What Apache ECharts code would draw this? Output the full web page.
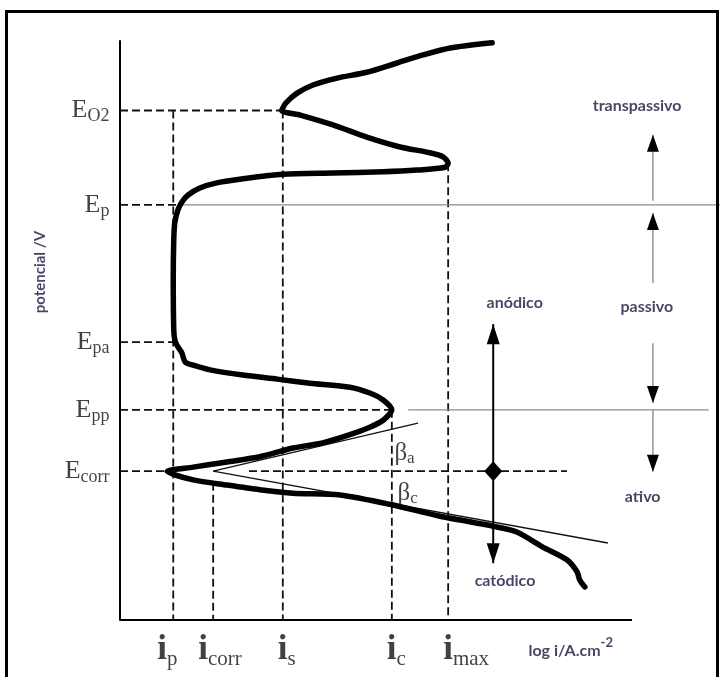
<!DOCTYPE html>
<html>
<head>
<meta charset="utf-8">
<script src="https://cdn.jsdelivr.net/npm/echarts@6/dist/echarts.min.js"></script>
<style>
  html, body { margin: 0; padding: 0; background: #fff; }
  #chart { width: 723px; height: 677px; }
</style>
</head>
<body>
<div id="chart"></div>
<script>
// Characteristic potentials (E axis, arbitrary units) and their subscripts
const potentialNames = ['O2', 'p', 'pa', 'pp', 'corr'];
const potentialValues = [8.80, 7.17, 4.80, 3.63, 2.57];

// Characteristic currents (log i axis, arbitrary units) and their subscripts
const currentNames = ['p', 'corr', 's', 'c', 'max'];
const currentValues = [1.04, 1.82, 3.18, 5.31, 6.41];

// Length of the drawn log i axis
const logIAxisEnd = 10;

// Polarization curve, traced from the transpassive end down to the cathodic branch
const curveLogI = [
  7.27, 6.45, 5.92, 5.41, 4.82, 4.24, 3.77, 3.46, 3.24, 3.16,
  3.52, 4.16, 4.82, 5.47, 6.05, 6.31, 6.41, 6.35, 5.80, 5.14,
  4.16, 3.18, 2.83, 2.48, 1.89, 1.56, 1.33, 1.21, 1.13, 1.07,
  1.05, 1.04, 1.05, 1.07, 1.11, 1.21, 1.27, 1.43, 1.76, 2.40,
  3.07, 3.71, 4.49, 4.88, 5.14, 5.31, 5.14, 4.88, 4.49, 3.96,
  3.38, 2.73, 2.09, 1.43, 0.92, 1.43, 2.09, 2.73, 3.38, 4.30,
  5.31, 6.21, 7.29, 7.75, 8.26, 8.73, 8.93, 8.98, 9.08
];
const curveE = [
  9.97, 9.88, 9.76, 9.62, 9.46, 9.36, 9.24, 9.10, 8.93, 8.80,
  8.72, 8.55, 8.34, 8.17, 8.07, 8.00, 7.89, 7.82, 7.77, 7.74,
  7.72, 7.70, 7.67, 7.63, 7.55, 7.46, 7.34, 7.22, 7.08, 6.86,
  6.56, 5.87, 5.01, 4.84, 4.75, 4.61, 4.46, 4.40, 4.32, 4.23,
  4.16, 4.09, 4.02, 3.92, 3.80, 3.63, 3.45, 3.33, 3.20, 3.06,
  2.97, 2.82, 2.73, 2.64, 2.57, 2.42, 2.33, 2.25, 2.19, 2.16,
  1.99, 1.80, 1.62, 1.52, 1.26, 1.04, 0.83, 0.69, 0.57
];

// Tafel extrapolations meeting at (i_corr, E_corr)
const tafelAnodicLogI = [1.82, 5.82];
const tafelAnodicE = [2.57, 3.40];
const tafelCathodicLogI = [1.82, 9.53];
const tafelCathodicE = [2.57, 1.33];

// Dashed guides: horizontal ones end at these log i, vertical ones start at these E
const hGuideEnd = [3.18, 1.17, 1.04, 5.31, 0.92];
const vGuideStart = [8.80, 2.37, 8.80, 3.63, 7.89];
const corrGuideExtra = [2.52, 8.73];

// Thin boundary lines at E_p and E_pp
const boundaryE = [7.17, 3.63];
const boundaryFrom = [1.17, 5.63];
const boundaryTo = [11.72, 11.50];

// Region arrows on the right (log i position, start E, tip E)
const regionArrowLogI = 10.41;
const regionArrowFrom = [7.24, 5.82, 4.78, 3.63];
const regionArrowTo = [8.38, 7.03, 3.75, 2.56];

// Anodic / cathodic arrow through E_corr
const branchArrowLogI = 7.29;
const branchArrowTips = [5.11, 0.98];

// ---------------------------------------------------------------------------
const SERIF = 'Liberation Serif';
const SANS = 'Lato';
const NAVY = '#15173c';
const INK = '#111';

const zip = (xs, ys) => xs.map((x, i) => [x, ys[i]]);

function lineSeries(data, lineStyle, z) {
  return {
    type: 'line', data, symbol: 'none', clip: false, silent: true,
    animation: false, lineStyle, z: z || 2
  };
}

const dashStyle = { color: INK, width: 1.8, type: [8, 4] };
const grayStyle = { color: '#8c8c8c', width: 1.2 };

const series = [];

// the log i axis line (stops short of the right-hand annotations)
series.push(lineSeries([[0, 0], [logIAxisEnd, 0]], { color: '#000', width: 2 }, 3));

// horizontal dashed guides from the E axis
potentialValues.forEach((e, i) => {
  series.push(lineSeries([[0, e], [hGuideEnd[i], e]], dashStyle));
});
series.push(lineSeries([[corrGuideExtra[0], potentialValues[4]], [corrGuideExtra[1], potentialValues[4]]], dashStyle));

// vertical dashed guides down to the log i axis
currentValues.forEach((c, i) => {
  series.push(lineSeries([[c, vGuideStart[i]], [c, 0]], dashStyle));
});

// thin gray boundary lines
boundaryE.forEach((e, i) => {
  series.push(lineSeries([[boundaryFrom[i], e], [boundaryTo[i], e]], grayStyle));
});

// Tafel lines
series.push(lineSeries(zip(tafelAnodicLogI, tafelAnodicE), { color: INK, width: 1.3 }, 4));
series.push(lineSeries(zip(tafelCathodicLogI, tafelCathodicE), { color: INK, width: 1.3 }, 4));

// main polarization curve
series.push({
  type: 'line', data: zip(curveLogI, curveE), symbol: 'none', smooth: 0.25,
  clip: false, silent: true, animation: false, z: 5,
  lineStyle: { color: '#000', width: 5.5, cap: 'round', join: 'round' }
});

// arrows: a line with a filled triangle head at the tip
function arrow(x, from, to, style, head) {
  const up = to > from;
  return {
    type: 'line', clip: false, silent: true, animation: false, z: 6,
    showSymbol: true, symbol: 'none', lineStyle: style,
    data: [
      [x, from],
      {
        value: [x, to], symbol: 'triangle', symbolSize: head,
        symbolRotate: up ? 0 : 180,
        symbolOffset: [0, up ? head[1] / 2 : -head[1] / 2],
        itemStyle: { color: '#000', opacity: 1 }
      }
    ]
  };
}
regionArrowFrom.forEach((f, i) => {
  series.push(arrow(regionArrowLogI, f, regionArrowTo[i], { color: '#7a7a7a', width: 1.2 }, [12, 17]));
});
branchArrowTips.forEach(t => {
  series.push(arrow(branchArrowLogI, potentialValues[4], t, { color: '#000', width: 2 }, [13, 20]));
});

// diamond at E_corr on the anodic/cathodic arrow
series.push({
  type: 'scatter', clip: false, silent: true, animation: false, z: 7,
  symbol: 'diamond', symbolSize: [18, 20], itemStyle: { color: '#000', opacity: 1 },
  data: [[branchArrowLogI, potentialValues[4]]]
});

// ---------------------------------------------------------------------------
// text labels
const eRich = {
  E: { fontFamily: SERIF, fontSize: 26, lineHeight: 30, color: INK, verticalAlign: 'middle' },
  s: { fontFamily: SERIF, fontSize: 18, lineHeight: 14, color: INK, verticalAlign: 'bottom' }
};
const iRich = {
  i: { fontFamily: SERIF, fontWeight: 'bold', fontSize: 35, lineHeight: 40, color: INK, verticalAlign: 'middle' },
  s: { fontFamily: SERIF, fontSize: 21, lineHeight: 16, color: INK, verticalAlign: 'bottom' }
};
const bRich = {
  b: { fontFamily: SERIF, fontSize: 25, lineHeight: 28, color: INK, verticalAlign: 'middle' },
  s: { fontFamily: SERIF, fontSize: 17, lineHeight: 12, color: INK, verticalAlign: 'bottom' }
};
const iLabelShift = [-16, -15, -5, -5, -5];
const sansLabel = { fontFamily: SANS, fontWeight: 'bold', fontSize: 16, color: NAVY };

const textItems = [];
potentialNames.forEach((n, i) => {
  textItems.push({
    value: [0, potentialValues[i]],
    label: { show: true, position: 'left', distance: 10, formatter: `{E|E}{s|${n}}`, rich: eRich }
  });
});
currentNames.forEach((n, i) => {
  textItems.push({
    value: [currentValues[i], 0],
    label: {
      show: true, position: 'bottom', distance: 9, align: 'left',
      offset: [iLabelShift[i], 0], formatter: `{i|i}{s|${n}}`, rich: iRich
    }
  });
});
[['a', [5.35, 2.88]], ['c', [5.41, 2.19]]].forEach(([n, pos]) => {
  textItems.push({
    value: pos,
    label: { show: true, position: 'right', distance: 0, formatter: `{b|β}{s|${n}}`, rich: bRich }
  });
});
[
  ['transpassivo', [10.10, 8.88]],
  ['passivo', [10.29, 5.41]],
  ['ativo', [10.21, 2.12]],
  ['anódico', [7.71, 5.47]],
  ['catódico', [7.52, 0.67]]
].forEach(([t, pos]) => {
  textItems.push({ value: pos, label: Object.assign({ show: true, position: 'inside', formatter: t }, sansLabel) });
});
textItems.push({
  value: [7.97, -0.48],
  label: {
    show: true, position: 'right', distance: 0, formatter: '{t|log i/A.cm}{p|-2}',
    rich: {
      t: { fontFamily: SANS, fontWeight: 'bold', fontSize: 16, lineHeight: 22, color: NAVY, verticalAlign: 'bottom' },
      p: { fontFamily: SANS, fontWeight: 'bold', fontSize: 13, lineHeight: 22, color: NAVY, verticalAlign: 'top' }
    }
  }
});
textItems.push({
  value: [-1.55, 6.01],
  label: Object.assign({ show: true, position: 'inside', rotate: 90, formatter: 'potencial /V' },
    sansLabel, { fontSize: 15 })
});

series.push({
  type: 'scatter', clip: false, silent: true, animation: false, z: 10,
  symbol: 'circle', symbolSize: 1, itemStyle: { color: 'rgba(0,0,0,0)' },
  data: textItems
});

// ---------------------------------------------------------------------------
const chart = echarts.init(document.getElementById('chart'), null, { renderer: 'canvas' });
chart.setOption({
  backgroundColor: '#fff',
  animation: false,
  // the grid reaches the right edge so the region arrows sit inside it
  grid: { left: 120, top: 41, width: 600, height: 579, outerBoundsMode: 'none' },
  xAxis: {
    type: 'value', min: 0, max: 11.72,
    axisLine: { show: false },
    axisTick: { show: false }, axisLabel: { show: false }, splitLine: { show: false }
  },
  yAxis: {
    type: 'value', min: 0, max: 10,
    axisLine: { show: true, lineStyle: { color: '#000', width: 2 } },
    axisTick: { show: false }, axisLabel: { show: false }, splitLine: { show: false }
  },
  graphic: [{
    type: 'rect', silent: true, z: 100,
    shape: { x: 6.5, y: 11.5, width: 711, height: 700 },
    style: { fill: null, stroke: '#000', lineWidth: 3 }
  }],
  series
});
</script>
</body>
</html>
